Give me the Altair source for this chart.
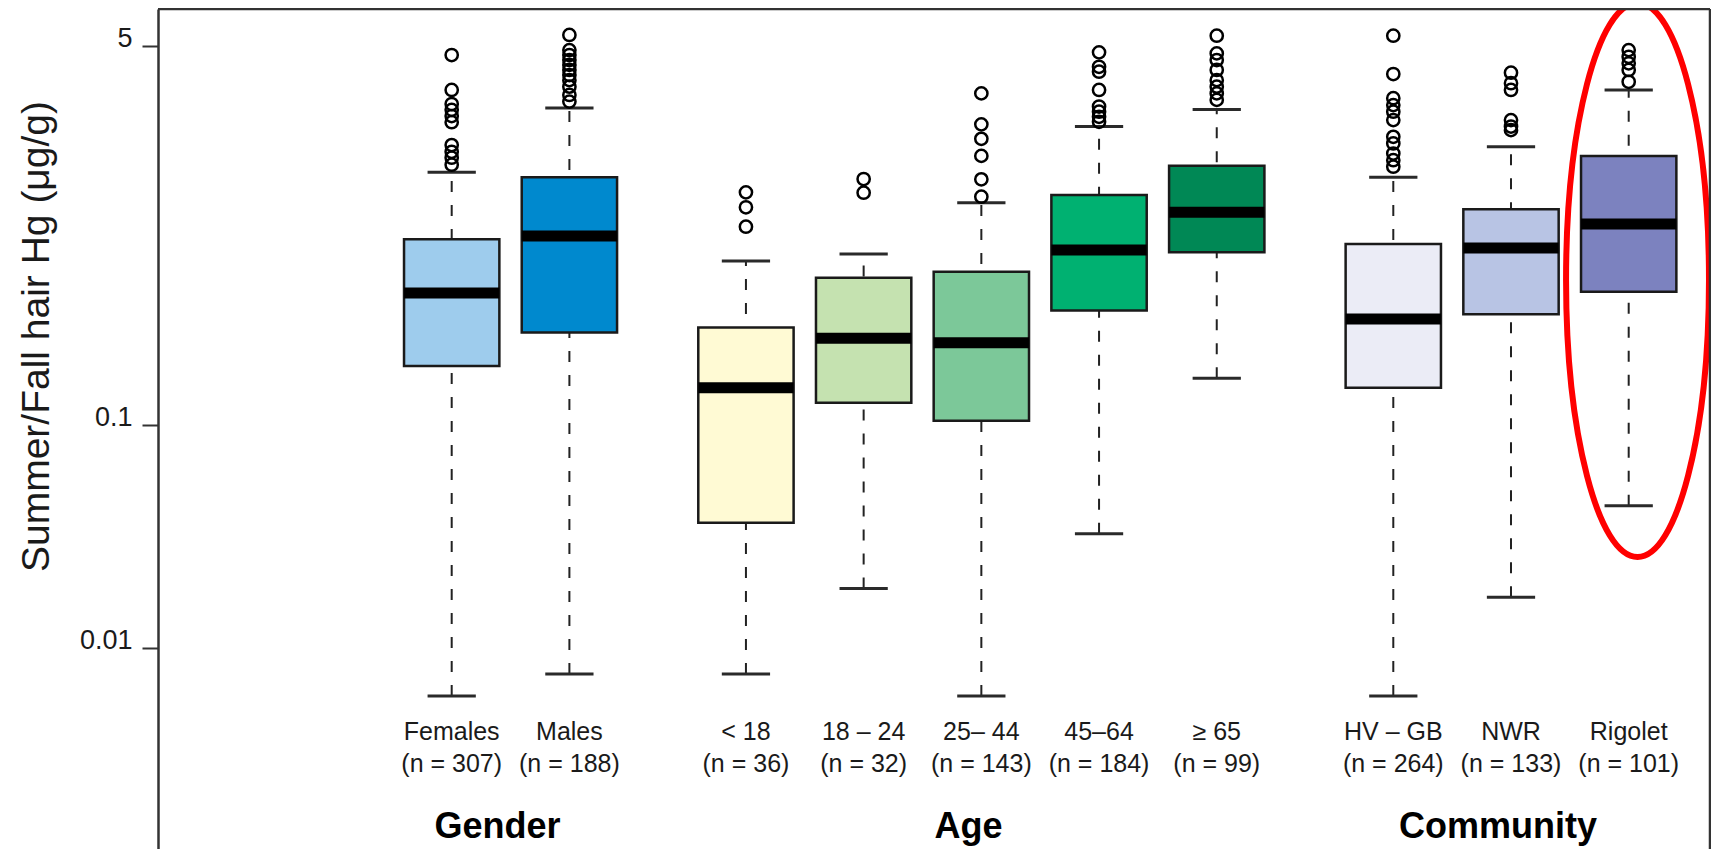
import altair as alt
import pandas as pd

# ---------------- data ----------------
categories = ["Females", "Males", "< 18", "18 – 24", "25– 44", "45–64", "≥ 65", "HV – GB", "NWR", "Rigolet"]
groups = ["Gender", "Gender", "Age", "Age", "Age", "Age", "Age", "Community", "Community", "Community"]
group_names = ["Gender", "Age", "Community"]
n_sizes = [307, 188, 36, 32, 143, 184, 99, 264, 133, 101]

whisker_low = [0.00609, 0.00764, 0.00764, 0.0185, 0.00609, 0.0325, 0.162, 0.00609, 0.0169, 0.0435]
q1 = [0.184, 0.260, 0.0365, 0.126, 0.1045, 0.326, 0.595, 0.147, 0.3135, 0.396]
median = [0.391, 0.704, 0.147, 0.245, 0.234, 0.609, 0.899, 0.299, 0.622, 0.797]
q3 = [0.680, 1.291, 0.274, 0.458, 0.487, 1.075, 1.455, 0.648, 0.927, 1.61]
whisker_high = [1.36, 2.64, 0.544, 0.584, 0.993, 2.18, 2.60, 1.29, 1.77, 3.18]
outliers = [
    [4.56, 3.18, 2.75, 2.59, 2.43, 2.28, 1.80, 1.68, 1.58, 1.47],
    [5.61, 4.80, 4.56, 4.33, 4.12, 3.91, 3.71, 3.52, 3.29, 3.02, 2.82],
    [1.105, 0.947, 0.775],
    [1.268, 1.101],
    [3.07, 2.23, 1.92, 1.61, 1.264, 1.056],
    [4.69, 4.04, 3.84, 3.18, 2.68, 2.54, 2.41, 2.29],
    [5.57, 4.64, 4.33, 3.91, 3.52, 3.29, 3.07, 2.87],
    [5.57, 3.75, 2.92, 2.72, 2.54, 2.33, 1.96, 1.83, 1.65, 1.54, 1.44],
    [3.80, 3.41, 3.18, 2.33, 2.18, 2.10],
    [4.80, 4.48, 4.19, 3.91, 3.46],
]
fill_colors = ["#9ECCED", "#0089CE", "#FFFAD4", "#C5E2B0", "#7CC899", "#00B171", "#008855",
               "#EBECF6", "#B8C4E4", "#7C82BF"]

y_tick_values = [0.01, 0.1, 5]
y_title = "Summer/Fall hair Hg (μg/g)"
highlight = "Rigolet"

# ---------------- layout / style constants ----------------
W, H = 1552, 840
UNIT = 117.7
X_LEFT = -2.4953
BOX_HALF = 0.405
CAP_HALF = 0.205
FONT = "Liberation Sans"
INK = "#1a1a1a"

positions = [i + 0.5 * group_names.index(g) for i, g in enumerate(groups)]

boxes = pd.DataFrame({
    "cat": categories, "pos": positions, "lo": whisker_low, "q1": q1, "med": median,
    "q3": q3, "hi": whisker_high, "fill": fill_colors,
    "ntext": [f"(n = {n})" for n in n_sizes],
})
boxes["bl"] = boxes["pos"] - BOX_HALF
boxes["br"] = boxes["pos"] + BOX_HALF
boxes["cl"] = boxes["pos"] - CAP_HALF
boxes["cr"] = boxes["pos"] + CAP_HALF

out_rows = [{"pos": p, "v": v} for p, vals in zip(positions, outliers) for v in vals]
outs = pd.DataFrame(out_rows)

grp = pd.DataFrame({
    "name": group_names,
    "pos": [sum(p for p, g in zip(positions, groups) if g == gn) / groups.count(gn) - 0.11
            for gn in group_names],
})

hpos = positions[categories.index(highlight)]
ell = pd.DataFrame({"pos": [hpos + 0.075], "v": [0.447]})

xscale = alt.Scale(domain=[X_LEFT, X_LEFT + W / UNIT], nice=False, zero=False)
yscale = alt.Scale(type="log", domain=[0.0012553, 7.337], nice=False)
yaxis = alt.Axis(
    values=y_tick_values, labelExpr="'' + datum.value", title=y_title, grid=False,
    tickSize=16, tickWidth=2, tickColor="#333", domainColor="#333", domainWidth=2.5,
    labelFont=FONT, labelFontSize=27, labelColor=INK, labelPadding=10,
    labelBaseline="alphabetic", labelFlush=False, labelOverlap=False,
    titleFont=FONT, titleFontSize=39, titleFontWeight="normal", titleColor=INK,
    titleAngle=270, titleX=-122, titleY=327, titleAlign="center", titleBaseline="middle",
)


def X(field):
    return alt.X(field, type="quantitative", scale=xscale, axis=None)


def Y(field):
    return alt.Y(field, type="quantitative", scale=yscale, axis=yaxis)


base = alt.Chart(boxes)

whiskers = base.mark_rule(strokeDash=[11, 13], strokeWidth=2, color="#222").encode(
    x=X("pos"), y=Y("lo"), y2="hi")
cap_lo = base.mark_rule(strokeWidth=3, color="#2a2a2a").encode(x=X("cl"), x2="cr", y=Y("lo"))
cap_hi = base.mark_rule(strokeWidth=3, color="#2a2a2a").encode(x=X("cl"), x2="cr", y=Y("hi"))
box = base.mark_rect(stroke="#1a1a1a", strokeWidth=2.5).encode(
    x=X("bl"), x2="br", y=Y("q1"), y2="q3", fill=alt.Fill("fill:N", scale=None))
med = base.mark_rule(strokeWidth=11, color="black").encode(x=X("bl"), x2="br", y=Y("med"))

pts = alt.Chart(outs).mark_point(shape="circle", filled=False, size=150, strokeWidth=2.5,
                                 color="black", opacity=1).encode(x=X("pos"), y=Y("v"))

lab1 = base.mark_text(font=FONT, fontSize=25, color=INK, align="center", baseline="alphabetic").encode(
    x=X("pos"), y=alt.value(731), text="cat:N")
lab2 = base.mark_text(font=FONT, fontSize=25, color=INK, align="center", baseline="alphabetic").encode(
    x=X("pos"), y=alt.value(763), text="ntext:N")
glab = alt.Chart(grp).mark_text(font=FONT, fontSize=36, fontWeight="bold", color="black",
                                align="center", baseline="alphabetic").encode(
    x=X("pos"), y=alt.value(829), text="name:N")

ellipse_path = ("M0,-1C0.1425,-1,0.258,-0.5523,0.258,0C0.258,0.5523,0.1425,1,0,1"
                "C-0.1425,1,-0.258,0.5523,-0.258,0C-0.258,-0.5523,-0.1425,-1,0,-1Z")
ellipse = alt.Chart(ell).mark_point(shape=ellipse_path, size=554 ** 2, filled=False,
                                    stroke="#ff0000", strokeWidth=6, opacity=1).encode(
    x=X("pos"), y=Y("v"))

one = pd.DataFrame({"d": [0]})
top_line = alt.Chart(one).mark_rule(color="#333", strokeWidth=2.5).encode(
    x=alt.value(0), x2=alt.value(W), y=alt.value(0))
right_line = alt.Chart(one).mark_rule(color="#333", strokeWidth=2.5).encode(
    x=alt.value(W), y=alt.value(0), y2=alt.value(H))

chart = alt.layer(
    whiskers, cap_lo, cap_hi, box, med, pts, lab1, lab2, glab, ellipse, top_line, right_line
).properties(
    width=W, height=H,
    autosize=alt.AutoSizeParams(type="none"),
    padding={"left": 150, "top": 1, "right": 1, "bottom": 0},
    background="white",
).configure_view(stroke=None)

chart.save("out.html", embed_options={"renderer": "svg", "actions": False})
